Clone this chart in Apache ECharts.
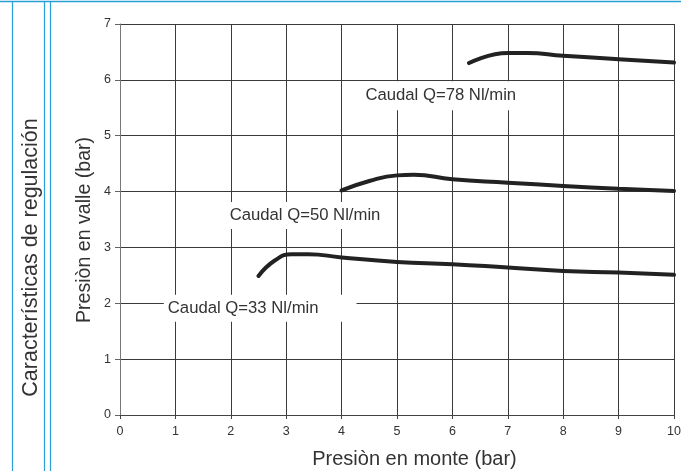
<!DOCTYPE html>
<html>
<head>
<meta charset="utf-8">
<script src="https://cdn.jsdelivr.net/npm/echarts@6/dist/echarts.min.js"></script>
<style>html,body{margin:0;padding:0;background:#fff;}#c{width:685px;height:471px;}</style>
</head>
<body>
<div id="c"></div>
<script>
// Data
const xTicks = [0,1,2,3,4,5,6,7,8,9,10];
const yTicks = [0,1,2,3,4,5,6,7];
const q33X = [2.5, 2.8, 3.1, 3.4, 4, 5, 6, 7, 8, 9, 10];
const q33Y = [2.49, 2.77, 2.88, 2.88, 2.82, 2.74, 2.70, 2.64, 2.58, 2.55, 2.51];
const q50X = [4.0, 4.5, 5.0, 5.3, 6, 7, 8, 9, 10];
const q50Y = [4.02, 4.19, 4.29, 4.30, 4.22, 4.16, 4.10, 4.05, 4.01];
const q78X = [6.3, 7.0, 7.35, 8, 9, 10];
const q78Y = [6.30, 6.48, 6.48, 6.43, 6.37, 6.31];
const labels = ['Caudal Q=33 Nl/min','Caudal Q=50 Nl/min','Caudal Q=78 Nl/min'];
const labelPos = [[2.53, 1.91], [3.34, 3.57], [5.79, 5.717]];

const FONT = '"Liberation Sans", Arial, Helvetica, sans-serif';
const chart = echarts.init(document.getElementById('c'), null, {renderer:'canvas'});
function pairs(xs, ys){ return xs.map((x,i)=>[x, ys[i]]); }
function mkSeries(xs, ys, idx, pad){
  return {
    type:'line', data: pairs(xs, ys), showSymbol:false, symbol:'none',
    smooth:0.5,
    lineStyle:{color:'#222', width:4, cap:'round', join:'round'},
    z:3, silent:true,
    markPoint:{
      symbol:'rect', symbolSize:0, silent:true,
      data:[{coord: labelPos[idx]}],
      label:{show:true, position:'inside', formatter: labels[idx], color:'#333',
        fontFamily:FONT, fontSize:16.7, backgroundColor:'#fff', padding:pad}
    }
  };
}
const blue = '#2a9fd6';
chart.setOption({
  animation:false,
  backgroundColor:'#fff',
  grid:{left:120, right:11, top:24, bottom:56, containLabel:false},
  xAxis:{type:'value', min:0, max:10, interval:1,
    axisLine:{show:true, onZero:false, lineStyle:{color:'#444', width:1}},
    axisTick:{show:true, length:4, lineStyle:{color:'#444'}},
    axisLabel:{color:'#333', fontSize:12.5, fontFamily:FONT, margin:10,
      formatter:(v)=> xTicks.indexOf(v)>=0 ? String(v) : ''},
    splitLine:{show:true, lineStyle:{color:'#3a3a3a', width:1}}},
  yAxis:{type:'value', min:0, max:7, interval:1,
    axisLine:{show:true, onZero:false, lineStyle:{color:'#777', width:1}},
    axisTick:{show:true, length:5, lineStyle:{color:'#666'}},
    axisLabel:{color:'#333', fontSize:12.5, fontFamily:FONT, margin:9,
      formatter:(v)=> yTicks.indexOf(v)>=0 ? String(v) : ''},
    splitLine:{show:true, lineStyle:{color:'#3a3a3a', width:1}}},
  series:[
    mkSeries(q33X, q33Y, 0, [5, 38, 5, 4]),
    mkSeries(q50X, q50Y, 1, [5, 10, 5, 10]),
    mkSeries(q78X, q78Y, 2, [4, 12, 8, 12])
  ],
  graphic:[
    {type:'line', shape:{x1:0, y1:1.5, x2:681, y2:1.5}, style:{stroke:blue, lineWidth:1.5}, silent:true},
    {type:'line', shape:{x1:12.5, y1:1.5, x2:12.5, y2:471}, style:{stroke:blue, lineWidth:1.2}, silent:true},
    {type:'line', shape:{x1:44.5, y1:1.5, x2:44.5, y2:471}, style:{stroke:blue, lineWidth:1.2}, silent:true},
    {type:'line', shape:{x1:50.5, y1:1.5, x2:50.5, y2:471}, style:{stroke:blue, lineWidth:1.2}, silent:true},
    {type:'text', x:31.5, y:257.5, rotation:Math.PI/2, silent:true,
      style:{text:'Características de regulación', fill:'#333', fontSize:21.5, fontFamily:FONT, textAlign:'center', textVerticalAlign:'middle'}},
    {type:'text', x:85, y:230, rotation:Math.PI/2, silent:true,
      style:{text:'Presiòn en valle (bar)', fill:'#333', fontSize:19.6, fontFamily:FONT, textAlign:'center', textVerticalAlign:'middle'}},
    {type:'text', x:414.5, y:459, silent:true,
      style:{text:'Presiòn en monte (bar)', fill:'#333', fontSize:20, fontFamily:FONT, textAlign:'center', textVerticalAlign:'middle'}}
  ]
});
</script>
</body>
</html>
